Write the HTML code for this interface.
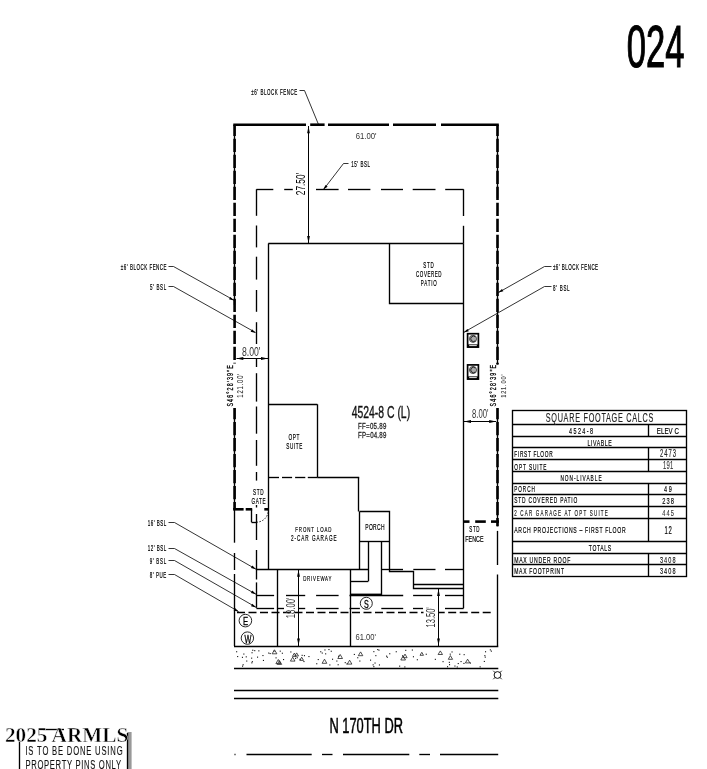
<!DOCTYPE html>
<html><head><meta charset="utf-8"><style>
html,body{margin:0;padding:0;background:#fff;width:707px;height:769px;overflow:hidden}
svg{display:block;will-change:transform}
</style></head><body>
<svg width="707" height="769" viewBox="0 0 707 769">
<defs><filter id="bl" x="-1%" y="-1%" width="102%" height="102%"><feGaussianBlur stdDeviation="0.0"/></filter></defs>
<rect width="707" height="769" fill="#fff"/>
<g>
<line x1="233.3" y1="124.7" x2="306" y2="124.7" stroke="#000" stroke-width="2.6"/>
<line x1="310.2" y1="124.7" x2="324.6" y2="124.7" stroke="#000" stroke-width="2.6"/>
<line x1="328" y1="124.7" x2="389" y2="124.7" stroke="#000" stroke-width="2.6"/>
<line x1="393" y1="124.7" x2="436" y2="124.7" stroke="#000" stroke-width="2.6"/>
<line x1="441" y1="124.7" x2="498.8" y2="124.7" stroke="#000" stroke-width="2.6"/>
<line x1="234.5" y1="124.8" x2="234.5" y2="200" stroke="#000" stroke-width="1.35"/>
<line x1="234.5" y1="240" x2="234.5" y2="305" stroke="#000" stroke-width="1.35"/>
<line x1="234.5" y1="408" x2="234.5" y2="509.3" stroke="#000" stroke-width="1.35"/>
<line x1="234.6" y1="124.8" x2="234.6" y2="363.5" stroke="#000" stroke-width="2.6" stroke-dasharray="13.3 2.7" stroke-dashoffset="2"/>
<line x1="234.6" y1="408" x2="234.6" y2="509.3" stroke="#000" stroke-width="2.6" stroke-dasharray="13.3 2.7" stroke-dashoffset="2"/>
<line x1="497.5" y1="124.8" x2="497.5" y2="198" stroke="#000" stroke-width="1.35"/>
<line x1="497.5" y1="240" x2="497.5" y2="364.5" stroke="#000" stroke-width="1.35"/>
<line x1="497.5" y1="408" x2="497.5" y2="458" stroke="#000" stroke-width="1.35"/>
<line x1="497.5" y1="466" x2="497.5" y2="526.3" stroke="#000" stroke-width="1.35"/>
<line x1="497.5" y1="124.8" x2="497.5" y2="364.5" stroke="#000" stroke-width="2.6" stroke-dasharray="13.3 2.7" stroke-dashoffset="2"/>
<line x1="497.5" y1="408" x2="497.5" y2="526.3" stroke="#000" stroke-width="2.6" stroke-dasharray="13.3 2.7" stroke-dashoffset="2"/>
<line x1="233.1" y1="509.3" x2="243.6" y2="509.3" stroke="#000" stroke-width="2.6"/>
<line x1="245.7" y1="509.3" x2="252.2" y2="509.3" stroke="#000" stroke-width="2.6"/>
<line x1="251.5" y1="509.3" x2="251.5" y2="522.2" stroke="#000" stroke-width="1.35"/>
<line x1="251.5" y1="522.5" x2="256.5" y2="522.5" stroke="#000" stroke-width="1.35"/>
<path d="M256.5,522.2 A12,12 0 0 0 268.3,509.3" fill="none" stroke="#000" stroke-width="0.9" stroke-dasharray="1.5 1.5"/>
<line x1="264.3" y1="509.3" x2="268.3" y2="509.3" stroke="#000" stroke-width="2.6"/>
<line x1="463.5" y1="521.6" x2="469.5" y2="521.6" stroke="#000" stroke-width="2.6"/>
<line x1="475.2" y1="521.6" x2="485.8" y2="521.6" stroke="#000" stroke-width="2.6"/>
<line x1="491" y1="521.6" x2="499.0" y2="521.6" stroke="#000" stroke-width="2.6"/>
<line x1="234.5" y1="509.3" x2="234.5" y2="542.7" stroke="#000" stroke-width="1.35"/>
<line x1="234.5" y1="553" x2="234.5" y2="570" stroke="#000" stroke-width="1.35"/>
<line x1="234.5" y1="574" x2="234.5" y2="646.0" stroke="#000" stroke-width="1.35"/>
<line x1="497.5" y1="530.9" x2="497.5" y2="565" stroke="#000" stroke-width="1.35"/>
<line x1="497.5" y1="574.5" x2="497.5" y2="646.0" stroke="#000" stroke-width="1.35"/>
<line x1="234.0" y1="646.5" x2="498.3" y2="646.5" stroke="#000" stroke-width="1.35"/>
<line x1="256.4" y1="189.5" x2="273.3" y2="189.5" stroke="#000" stroke-width="1.35"/>
<line x1="284.2" y1="189.5" x2="292.8" y2="189.5" stroke="#000" stroke-width="1.35"/>
<line x1="316" y1="189.5" x2="338.6" y2="189.5" stroke="#000" stroke-width="1.35"/>
<line x1="348" y1="189.5" x2="370.4" y2="189.5" stroke="#000" stroke-width="1.35"/>
<line x1="381" y1="189.5" x2="403" y2="189.5" stroke="#000" stroke-width="1.35"/>
<line x1="412.7" y1="189.5" x2="435.5" y2="189.5" stroke="#000" stroke-width="1.35"/>
<line x1="445.2" y1="189.5" x2="463.6" y2="189.5" stroke="#000" stroke-width="1.35"/>
<line x1="256.5" y1="189.3" x2="256.5" y2="215.8" stroke="#000" stroke-width="1.35"/>
<line x1="256.5" y1="225.5" x2="256.5" y2="247.4" stroke="#000" stroke-width="1.35"/>
<line x1="256.5" y1="256.7" x2="256.5" y2="279.6" stroke="#000" stroke-width="1.35"/>
<line x1="256.5" y1="290" x2="256.5" y2="311.8" stroke="#000" stroke-width="1.35"/>
<line x1="256.5" y1="322.2" x2="256.5" y2="344" stroke="#000" stroke-width="1.35"/>
<line x1="256.5" y1="358.5" x2="256.5" y2="367" stroke="#000" stroke-width="1.35"/>
<line x1="256.5" y1="373.2" x2="256.5" y2="401.6" stroke="#000" stroke-width="1.35"/>
<line x1="256.5" y1="406.5" x2="256.5" y2="433.7" stroke="#000" stroke-width="1.35"/>
<line x1="256.5" y1="440" x2="256.5" y2="465.8" stroke="#000" stroke-width="1.35"/>
<line x1="256.5" y1="472" x2="256.5" y2="480.6" stroke="#000" stroke-width="1.35"/>
<line x1="256.5" y1="505" x2="256.5" y2="507.5" stroke="#000" stroke-width="1.35"/>
<line x1="256.5" y1="514" x2="256.5" y2="540" stroke="#000" stroke-width="1.35"/>
<line x1="256.5" y1="550" x2="256.5" y2="579.5" stroke="#000" stroke-width="1.35"/>
<line x1="256.5" y1="582.4" x2="256.5" y2="607.8" stroke="#000" stroke-width="1.35"/>
<line x1="463.5" y1="189.3" x2="463.5" y2="216" stroke="#000" stroke-width="1.35"/>
<line x1="463.5" y1="225.8" x2="463.5" y2="243.5" stroke="#000" stroke-width="1.35"/>
<line x1="268.3" y1="243.5" x2="463.6" y2="243.5" stroke="#000" stroke-width="1.35"/>
<line x1="268.5" y1="243.5" x2="268.5" y2="569.5" stroke="#000" stroke-width="1.35"/>
<line x1="463.5" y1="243.5" x2="463.5" y2="608.2" stroke="#000" stroke-width="1.35"/>
<polyline points="389.5,243.5 389.5,303.5 463.5,303.5" fill="none" stroke="#000" stroke-width="1.35" stroke-linejoin="miter"/>
<line x1="268.3" y1="404.5" x2="317.4" y2="404.5" stroke="#000" stroke-width="1.35"/>
<line x1="317.5" y1="404.3" x2="317.5" y2="477.5" stroke="#000" stroke-width="1.35"/>
<line x1="268.3" y1="477.5" x2="279" y2="477.5" stroke="#000" stroke-width="1.35"/>
<line x1="282" y1="477.5" x2="292.1" y2="477.5" stroke="#000" stroke-width="1.35"/>
<line x1="295.1" y1="477.5" x2="305.3" y2="477.5" stroke="#000" stroke-width="1.35"/>
<line x1="307.8" y1="477.5" x2="317.4" y2="477.5" stroke="#000" stroke-width="1.35"/>
<line x1="317.4" y1="477.5" x2="359.2" y2="477.5" stroke="#000" stroke-width="1.35"/>
<line x1="358.5" y1="477.5" x2="358.5" y2="511.5" stroke="#000" stroke-width="1.35"/>
<line x1="359.5" y1="511.5" x2="359.5" y2="569.5" stroke="#000" stroke-width="1.35"/>
<line x1="256.4" y1="569.5" x2="368.3" y2="569.5" stroke="#000" stroke-width="1.35"/>
<polyline points="359.5,511.5 389.5,511.5 389.5,571.5 413.5,571.5 413.5,588.5 463.5,588.5" fill="none" stroke="#000" stroke-width="1.35" stroke-linejoin="miter"/>
<line x1="359.2" y1="541.5" x2="389.6" y2="541.5" stroke="#000" stroke-width="1.35"/>
<line x1="413.7" y1="584.5" x2="463.6" y2="584.5" stroke="#000" stroke-width="1.35"/>
<line x1="368.5" y1="541.2" x2="368.5" y2="581.3" stroke="#000" stroke-width="1.35"/>
<line x1="350.5" y1="581.5" x2="368.3" y2="581.5" stroke="#000" stroke-width="1.35"/>
<line x1="381.5" y1="541.2" x2="381.5" y2="595" stroke="#000" stroke-width="1.35"/>
<line x1="350.5" y1="594.6" x2="381.3" y2="594.6" stroke="#000" stroke-width="2.0"/>
<line x1="277.5" y1="569.5" x2="277.5" y2="646.0" stroke="#000" stroke-width="1.35"/>
<line x1="350.5" y1="569.5" x2="350.5" y2="646.0" stroke="#000" stroke-width="1.35"/>
<line x1="256.4" y1="595.5" x2="274.1" y2="595.5" stroke="#000" stroke-width="1.35"/>
<line x1="286" y1="595.5" x2="305.2" y2="595.5" stroke="#000" stroke-width="1.35"/>
<line x1="316.1" y1="595.5" x2="338.6" y2="595.5" stroke="#000" stroke-width="1.35"/>
<line x1="349.5" y1="595.5" x2="403.2" y2="595.5" stroke="#000" stroke-width="1.35"/>
<line x1="413.1" y1="595.5" x2="432.2" y2="595.5" stroke="#000" stroke-width="1.35"/>
<line x1="445" y1="595.5" x2="463.6" y2="595.5" stroke="#000" stroke-width="1.35"/>
<line x1="256.4" y1="608.5" x2="274.1" y2="608.5" stroke="#000" stroke-width="1.35"/>
<line x1="277.4" y1="608.5" x2="284" y2="608.5" stroke="#000" stroke-width="1.35"/>
<line x1="298.2" y1="608.5" x2="305.2" y2="608.5" stroke="#000" stroke-width="1.35"/>
<line x1="316.1" y1="608.5" x2="338.6" y2="608.5" stroke="#000" stroke-width="1.35"/>
<line x1="349.5" y1="608.5" x2="359.9" y2="608.5" stroke="#000" stroke-width="1.35"/>
<line x1="381.3" y1="608.5" x2="403.2" y2="608.5" stroke="#000" stroke-width="1.35"/>
<line x1="413" y1="608.5" x2="423" y2="608.5" stroke="#000" stroke-width="1.35"/>
<line x1="445" y1="608.5" x2="463.6" y2="608.5" stroke="#000" stroke-width="1.35"/>
<line x1="381.3" y1="569.5" x2="403" y2="569.5" stroke="#000" stroke-width="1.35"/>
<line x1="413.3" y1="569.5" x2="435.5" y2="569.5" stroke="#000" stroke-width="1.35"/>
<line x1="445" y1="569.5" x2="463.6" y2="569.5" stroke="#000" stroke-width="1.35"/>
<line x1="237" y1="612.5" x2="423.5" y2="612.5" stroke="#000" stroke-width="1.35" stroke-dasharray="8 3.5" stroke-dashoffset="0"/>
<line x1="438.7" y1="612.5" x2="494" y2="612.5" stroke="#000" stroke-width="1.35" stroke-dasharray="8 3.5" stroke-dashoffset="2"/>
<circle cx="245.4" cy="620.6" r="6.3" fill="#fff" stroke="#111" stroke-width="0.9"/>
<text transform="translate(243.1,625.1999999999999) scale(0.7,1)" x="0" y="0" font-family='"Liberation Sans", sans-serif' font-size="11.05" font-weight="normal" fill="#000" stroke="#000" stroke-width="0.3" textLength="6.57" lengthAdjust="spacing">E</text>
<circle cx="247.4" cy="638.1" r="6.2" fill="#fff" stroke="#111" stroke-width="0.9"/>
<text transform="translate(244.4,642.5) scale(0.7,1)" x="0" y="0" font-family='"Liberation Sans", sans-serif' font-size="10.47" font-weight="normal" fill="#000" stroke="#000" stroke-width="0.3" textLength="8.57" lengthAdjust="spacing">W</text>
<circle cx="366.3" cy="603.3" r="6.0" fill="#fff" stroke="#111" stroke-width="0.9"/>
<text transform="translate(364.0,607.5999999999999) scale(0.7,1)" x="0" y="0" font-family='"Liberation Sans", sans-serif' font-size="10.17" font-weight="normal" fill="#000" stroke="#000" stroke-width="0.3" textLength="6.57" lengthAdjust="spacing">S</text>
<rect x="467.6" y="333.7" width="10.8" height="13.4" fill="#fff" stroke="#000" stroke-width="1.7"/>
<rect x="467.6" y="344.4" width="10.8" height="2.8" fill="#000"/>
<line x1="469.6" y1="345.59999999999997" x2="476.4" y2="345.59999999999997" stroke="#fff" stroke-width="0.9" stroke-linecap="round"/>
<circle cx="473" cy="338.8" r="3.6" fill="#aaa" stroke="#333" stroke-width="0.8"/>
<path d="M475.3,336.8 A2.7,2.7 0 1 0 475.3,340.8" fill="none" stroke="#222" stroke-width="1.0"/>
<rect x="467.6" y="364.9" width="10.8" height="14.2" fill="#fff" stroke="#000" stroke-width="1.7"/>
<rect x="467.6" y="376.4" width="10.8" height="2.8" fill="#000"/>
<line x1="469.6" y1="377.59999999999997" x2="476.4" y2="377.59999999999997" stroke="#fff" stroke-width="0.9" stroke-linecap="round"/>
<circle cx="473" cy="370.0" r="3.6" fill="#aaa" stroke="#333" stroke-width="0.8"/>
<path d="M475.3,368.0 A2.7,2.7 0 1 0 475.3,372.0" fill="none" stroke="#222" stroke-width="1.0"/>
<line x1="308.5" y1="126" x2="308.5" y2="243" stroke="#000" stroke-width="1.0"/>
<polygon points="308.50,126.20 309.90,133.20 307.10,133.20" fill="#000"/>
<polygon points="308.50,243.00 307.10,236.00 309.90,236.00" fill="#000"/>
<text transform="translate(305.3,195.2) rotate(-90)" x="0" y="0" font-family='"Liberation Sans", sans-serif' font-size="13.52" font-weight="normal" fill="#000" textLength="22.30" lengthAdjust="spacingAndGlyphs">27.50'</text>
<line x1="236.5" y1="358.5" x2="268" y2="358.5" stroke="#000" stroke-width="1.0"/>
<polygon points="236.30,358.50 243.30,357.10 243.30,359.90" fill="#000"/>
<polygon points="268.00,358.50 261.00,359.90 261.00,357.10" fill="#000"/>
<text x="242" y="355.7" font-family='"Liberation Sans", sans-serif' font-size="13.52" font-weight="normal" fill="#333" textLength="18.50" lengthAdjust="spacingAndGlyphs">8.00'</text>
<line x1="463.5" y1="421.5" x2="496.2" y2="421.5" stroke="#000" stroke-width="1.0"/>
<polygon points="464.00,421.50 471.00,420.10 471.00,422.90" fill="#000"/>
<polygon points="496.20,421.50 489.20,422.90 489.20,420.10" fill="#000"/>
<text x="472" y="418" font-family='"Liberation Sans", sans-serif' font-size="13.37" font-weight="normal" fill="#333" textLength="16.40" lengthAdjust="spacingAndGlyphs">8.00'</text>
<line x1="298.5" y1="569.5" x2="298.5" y2="646" stroke="#000" stroke-width="1.0"/>
<polygon points="298.50,569.80 299.90,576.80 297.10,576.80" fill="#000"/>
<polygon points="298.50,645.50 297.10,638.50 299.90,638.50" fill="#000"/>
<text transform="translate(295.1,618.3) rotate(-90)" x="0" y="0" font-family='"Liberation Sans", sans-serif' font-size="12.79" font-weight="normal" fill="#333" textLength="20.70" lengthAdjust="spacingAndGlyphs">18.00'</text>
<line x1="438.5" y1="588.5" x2="438.5" y2="646" stroke="#000" stroke-width="1.0"/>
<polygon points="438.50,589.00 439.90,596.00 437.10,596.00" fill="#000"/>
<polygon points="438.50,645.50 437.10,638.50 439.90,638.50" fill="#000"/>
<text transform="translate(435.1,627.5) rotate(-90)" x="0" y="0" font-family='"Liberation Sans", sans-serif' font-size="13.23" font-weight="normal" fill="#333" textLength="20.30" lengthAdjust="spacingAndGlyphs">13.50'</text>
<polyline points="299.5,90.5 304.5,90.5 318.5,124.5" fill="none" stroke="#000" stroke-width="0.8" stroke-linejoin="miter"/>
<polyline points="348.5,163.5 343.5,163.5 323.5,189.5" fill="none" stroke="#000" stroke-width="0.8" stroke-linejoin="miter"/>
<polygon points="323.30,189.60 325.49,184.89 327.61,186.71" fill="#000"/>
<polyline points="168.5,266.5 173.5,266.5 234.5,300.5" fill="none" stroke="#000" stroke-width="0.8" stroke-linejoin="miter"/>
<polygon points="234.00,300.60 228.96,299.34 230.35,296.91" fill="#000"/>
<polyline points="168.5,286.5 173.5,286.5 255.5,332.5" fill="none" stroke="#000" stroke-width="0.8" stroke-linejoin="miter"/>
<polygon points="255.70,332.90 250.66,331.66 252.04,329.22" fill="#000"/>
<polyline points="551.5,266.5 544.5,266.5 498.5,292.5" fill="none" stroke="#000" stroke-width="0.8" stroke-linejoin="miter"/>
<polygon points="498.30,292.60 501.96,288.92 503.34,291.36" fill="#000"/>
<polyline points="551.5,286.5 544.5,286.5 463.5,332.5" fill="none" stroke="#000" stroke-width="0.8" stroke-linejoin="miter"/>
<polygon points="463.80,332.60 467.45,328.91 468.84,331.34" fill="#000"/>
<polyline points="168.5,522.5 174.5,522.5 256.5,569.5" fill="none" stroke="#000" stroke-width="0.8" stroke-linejoin="miter"/>
<polygon points="256.00,569.20 250.96,567.93 252.35,565.50" fill="#000"/>
<polyline points="168.5,548.5 174.5,548.5 256.5,594.5" fill="none" stroke="#000" stroke-width="0.8" stroke-linejoin="miter"/>
<polygon points="256.00,594.20 250.96,592.95 252.34,590.52" fill="#000"/>
<polyline points="168.5,560.5 174.5,560.5 256.5,607.5" fill="none" stroke="#000" stroke-width="0.8" stroke-linejoin="miter"/>
<polygon points="256.00,607.50 250.97,606.23 252.36,603.80" fill="#000"/>
<polyline points="168.5,574.5 174.5,574.5 238.5,611.5" fill="none" stroke="#000" stroke-width="0.8" stroke-linejoin="miter"/>
<polygon points="238.70,611.80 233.67,610.53 235.06,608.10" fill="#000"/>
<text transform="translate(251.3,94.6) scale(0.55,1)" x="0" y="0" font-family='"Liberation Sans", sans-serif' font-size="8.14" font-weight="normal" fill="#000" stroke="#000" stroke-width="0.2" textLength="83.45" lengthAdjust="spacing">±6' BLOCK FENCE</text>
<text x="355.7" y="138.9" font-family='"Liberation Sans", sans-serif' font-size="9.30" font-weight="normal" fill="#333" textLength="20.80" lengthAdjust="spacingAndGlyphs">61.00'</text>
<text transform="translate(351.29999999999995,167.0) scale(0.55,1)" x="0" y="0" font-family='"Liberation Sans", sans-serif' font-size="8.14" font-weight="normal" fill="#000" stroke="#000" stroke-width="0.2" textLength="34.00" lengthAdjust="spacing">15' BSL</text>
<text transform="translate(120.80000000000001,269.5) scale(0.55,1)" x="0" y="0" font-family='"Liberation Sans", sans-serif' font-size="8.14" font-weight="normal" fill="#000" stroke="#000" stroke-width="0.2" textLength="83.27" lengthAdjust="spacing">±6' BLOCK FENCE</text>
<text transform="translate(150.0,289.8) scale(0.55,1)" x="0" y="0" font-family='"Liberation Sans", sans-serif' font-size="8.14" font-weight="normal" fill="#000" stroke="#000" stroke-width="0.2" textLength="29.45" lengthAdjust="spacing">5' BSL</text>
<text transform="translate(552.9,270.3) scale(0.55,1)" x="0" y="0" font-family='"Liberation Sans", sans-serif' font-size="8.14" font-weight="normal" fill="#000" stroke="#000" stroke-width="0.2" textLength="82.18" lengthAdjust="spacing">±6' BLOCK FENCE</text>
<text transform="translate(552.9,290.5) scale(0.55,1)" x="0" y="0" font-family='"Liberation Sans", sans-serif' font-size="8.14" font-weight="normal" fill="#000" stroke="#000" stroke-width="0.2" textLength="30.36" lengthAdjust="spacing">8' BSL</text>
<text transform="translate(147.70000000000002,525.6) scale(0.55,1)" x="0" y="0" font-family='"Liberation Sans", sans-serif' font-size="8.14" font-weight="normal" fill="#000" stroke="#000" stroke-width="0.2" textLength="33.64" lengthAdjust="spacing">16' BSL</text>
<text transform="translate(147.70000000000002,550.8) scale(0.55,1)" x="0" y="0" font-family='"Liberation Sans", sans-serif' font-size="8.14" font-weight="normal" fill="#000" stroke="#000" stroke-width="0.2" textLength="33.64" lengthAdjust="spacing">12' BSL</text>
<text transform="translate(149.70000000000002,563.6) scale(0.55,1)" x="0" y="0" font-family='"Liberation Sans", sans-serif' font-size="8.14" font-weight="normal" fill="#000" stroke="#000" stroke-width="0.2" textLength="30.00" lengthAdjust="spacing">9' BSL</text>
<text transform="translate(149.70000000000002,577.8) scale(0.55,1)" x="0" y="0" font-family='"Liberation Sans", sans-serif' font-size="8.14" font-weight="normal" fill="#000" stroke="#000" stroke-width="0.2" textLength="30.00" lengthAdjust="spacing">8' PUE</text>
<text transform="translate(423.29999999999995,267.8) scale(0.55,1)" x="0" y="0" font-family='"Liberation Sans", sans-serif' font-size="8.14" font-weight="normal" fill="#000" stroke="#000" stroke-width="0.2" textLength="18.91" lengthAdjust="spacing">STD</text>
<text transform="translate(416.09999999999997,276.7) scale(0.55,1)" x="0" y="0" font-family='"Liberation Sans", sans-serif' font-size="8.14" font-weight="normal" fill="#000" stroke="#000" stroke-width="0.2" textLength="46.18" lengthAdjust="spacing">COVERED</text>
<text transform="translate(420.79999999999995,285.7) scale(0.55,1)" x="0" y="0" font-family='"Liberation Sans", sans-serif' font-size="8.14" font-weight="normal" fill="#000" stroke="#000" stroke-width="0.2" textLength="28.91" lengthAdjust="spacing">PATIO</text>
<text x="351.7" y="417.5" font-family='"Liberation Sans", sans-serif' font-size="15.99" font-weight="normal" fill="#111" stroke="#111" stroke-width="0.35" textLength="58.40" lengthAdjust="spacingAndGlyphs">4524-8 C (L)</text>
<text transform="translate(358.09999999999997,429.3) scale(0.75,1)" x="0" y="0" font-family='"Liberation Sans", sans-serif' font-size="8.14" font-weight="normal" fill="#222" stroke="#222" stroke-width="0.25" textLength="37.60" lengthAdjust="spacing">FF=05.89</text>
<text transform="translate(358.09999999999997,437.8) scale(0.75,1)" x="0" y="0" font-family='"Liberation Sans", sans-serif' font-size="8.14" font-weight="normal" fill="#222" stroke="#222" stroke-width="0.25" textLength="37.60" lengthAdjust="spacing">FP=04.89</text>
<text transform="translate(288.4,440.3) scale(0.55,1)" x="0" y="0" font-family='"Liberation Sans", sans-serif' font-size="8.58" font-weight="normal" fill="#000" stroke="#000" stroke-width="0.2" textLength="19.82" lengthAdjust="spacing">OPT</text>
<text transform="translate(286.29999999999995,449.3) scale(0.55,1)" x="0" y="0" font-family='"Liberation Sans", sans-serif' font-size="8.43" font-weight="normal" fill="#000" stroke="#000" stroke-width="0.2" textLength="29.27" lengthAdjust="spacing">SUITE</text>
<text transform="translate(253.1,495.1) scale(0.55,1)" x="0" y="0" font-family='"Liberation Sans", sans-serif' font-size="8.43" font-weight="normal" fill="#000" stroke="#000" stroke-width="0.2" textLength="19.27" lengthAdjust="spacing">STD</text>
<text transform="translate(251.4,503.8) scale(0.55,1)" x="0" y="0" font-family='"Liberation Sans", sans-serif' font-size="8.43" font-weight="normal" fill="#000" stroke="#000" stroke-width="0.2" textLength="25.82" lengthAdjust="spacing">GATE</text>
<text transform="translate(295.29999999999995,532) scale(0.55,1)" x="0" y="0" font-family='"Liberation Sans", sans-serif' font-size="7.99" font-weight="normal" fill="#000" stroke="#000" stroke-width="0.2" textLength="65.82" lengthAdjust="spacing">FRONT LOAD</text>
<text transform="translate(290.9,540.8) scale(0.55,1)" x="0" y="0" font-family='"Liberation Sans", sans-serif' font-size="8.43" font-weight="normal" fill="#000" stroke="#000" stroke-width="0.2" textLength="83.09" lengthAdjust="spacing">2-CAR GARAGE</text>
<text transform="translate(365.29999999999995,530) scale(0.55,1)" x="0" y="0" font-family='"Liberation Sans", sans-serif' font-size="9.01" font-weight="normal" fill="#000" stroke="#000" stroke-width="0.2" textLength="34.91" lengthAdjust="spacing">PORCH</text>
<text transform="translate(303.2,580.6) scale(0.55,1)" x="0" y="0" font-family='"Liberation Sans", sans-serif' font-size="7.99" font-weight="normal" fill="#000" stroke="#000" stroke-width="0.2" textLength="51.27" lengthAdjust="spacing">DRIVEWAY</text>
<text transform="translate(469.2,532.3) scale(0.55,1)" x="0" y="0" font-family='"Liberation Sans", sans-serif' font-size="8.14" font-weight="normal" fill="#000" stroke="#000" stroke-width="0.2" textLength="18.91" lengthAdjust="spacing">STD</text>
<text transform="translate(465.29999999999995,541.9) scale(0.55,1)" x="0" y="0" font-family='"Liberation Sans", sans-serif' font-size="9.74" font-weight="normal" fill="#000" stroke="#000" stroke-width="0.2" textLength="33.09" lengthAdjust="spacing">FENCE</text>
<text x="355.6" y="639.5" font-family='"Liberation Sans", sans-serif' font-size="9.30" font-weight="normal" fill="#333" textLength="20.40" lengthAdjust="spacingAndGlyphs">61.00'</text>
<text transform="translate(233.0,406.6) rotate(-90) scale(0.6,1)" x="0" y="0" font-family='"Liberation Sans", sans-serif' font-size="8.87" font-weight="normal" fill="#000" stroke="#000" stroke-width="0.3" textLength="69.00" lengthAdjust="spacing">S46°28'39"E</text>
<text transform="translate(243.1,397.7) rotate(-90) scale(0.7,1)" x="0" y="0" font-family='"Liberation Sans", sans-serif' font-size="8.43" font-weight="normal" fill="#333" stroke="#333" stroke-width="0.1" textLength="34.43" lengthAdjust="spacing">121.00'</text>
<text transform="translate(496.1,406.4) rotate(-90) scale(0.6,1)" x="0" y="0" font-family='"Liberation Sans", sans-serif' font-size="8.87" font-weight="normal" fill="#000" stroke="#000" stroke-width="0.3" textLength="69.00" lengthAdjust="spacing">S46°28'39"E</text>
<text transform="translate(506.2,397.8) rotate(-90) scale(0.7,1)" x="0" y="0" font-family='"Liberation Sans", sans-serif' font-size="7.99" font-weight="normal" fill="#333" stroke="#333" stroke-width="0.1" textLength="33.29" lengthAdjust="spacing">121.00'</text>
<line x1="234.0" y1="668.5" x2="498.3" y2="668.5" stroke="#000" stroke-width="1.35"/>
<line x1="234.0" y1="690.5" x2="498.3" y2="690.5" stroke="#000" stroke-width="1.35"/>
<line x1="234.0" y1="698.5" x2="498.3" y2="698.5" stroke="#000" stroke-width="1.35"/>
<line x1="234.5" y1="754.5" x2="235.5" y2="754.5" stroke="#000" stroke-width="1.35"/>
<line x1="246.5" y1="754.5" x2="311.7" y2="754.5" stroke="#000" stroke-width="1.35"/>
<line x1="322" y1="754.5" x2="332.5" y2="754.5" stroke="#000" stroke-width="1.35"/>
<line x1="343" y1="754.5" x2="409.3" y2="754.5" stroke="#000" stroke-width="1.35"/>
<line x1="419.3" y1="754.5" x2="430" y2="754.5" stroke="#000" stroke-width="1.35"/>
<line x1="440" y1="754.5" x2="498.2" y2="754.5" stroke="#000" stroke-width="1.35"/>
<text x="329.4" y="733.3" font-family='"Liberation Sans", sans-serif' font-size="21.80" font-weight="normal" fill="#000" stroke="#000" stroke-width="0.55" textLength="73.60" lengthAdjust="spacingAndGlyphs">N 170TH DR</text>
<rect x="320.2" y="651.2" width="1.1" height="1.1" fill="#111"/>
<rect x="405.2" y="649.8" width="1.1" height="1.1" fill="#111"/>
<rect x="375.3" y="655.1" width="1.1" height="1.1" fill="#111"/>
<rect x="251.1" y="657.6" width="1.1" height="1.1" fill="#111"/>
<rect x="245.7" y="656.3" width="1.1" height="1.1" fill="#111"/>
<rect x="254.2" y="650.1" width="1.1" height="1.1" fill="#111"/>
<rect x="346.4" y="663.4" width="1.1" height="1.1" fill="#111"/>
<rect x="268.2" y="652.5" width="1.1" height="1.1" fill="#111"/>
<rect x="399.1" y="665.6" width="1.1" height="1.1" fill="#111"/>
<rect x="386.0" y="655.6" width="1.1" height="1.1" fill="#111"/>
<rect x="489.8" y="649.3" width="1.1" height="1.1" fill="#111"/>
<rect x="459.2" y="653.7" width="1.1" height="1.1" fill="#111"/>
<rect x="273.5" y="650.6" width="1.1" height="1.1" fill="#111"/>
<rect x="316.2" y="663.2" width="1.1" height="1.1" fill="#111"/>
<rect x="283.0" y="659.0" width="1.1" height="1.1" fill="#111"/>
<rect x="402.1" y="655.2" width="1.1" height="1.1" fill="#111"/>
<rect x="378.4" y="649.6" width="1.1" height="1.1" fill="#111"/>
<rect x="251.5" y="652.2" width="1.1" height="1.1" fill="#111"/>
<rect x="412.9" y="656.2" width="1.1" height="1.1" fill="#111"/>
<rect x="317.7" y="659.0" width="1.1" height="1.1" fill="#111"/>
<rect x="353.8" y="653.9" width="1.1" height="1.1" fill="#111"/>
<rect x="442.5" y="661.1" width="1.1" height="1.1" fill="#111"/>
<rect x="299.5" y="658.8" width="1.1" height="1.1" fill="#111"/>
<rect x="372.6" y="664.3" width="1.1" height="1.1" fill="#111"/>
<rect x="425.7" y="653.7" width="1.1" height="1.1" fill="#111"/>
<rect x="490.8" y="650.6" width="1.1" height="1.1" fill="#111"/>
<rect x="344.7" y="662.1" width="1.1" height="1.1" fill="#111"/>
<rect x="275.5" y="657.3" width="1.1" height="1.1" fill="#111"/>
<rect x="246.2" y="660.5" width="1.1" height="1.1" fill="#111"/>
<rect x="434.8" y="658.8" width="1.1" height="1.1" fill="#111"/>
<rect x="463.6" y="654.1" width="1.1" height="1.1" fill="#111"/>
<rect x="416.8" y="659.2" width="1.1" height="1.1" fill="#111"/>
<rect x="386.8" y="656.7" width="1.1" height="1.1" fill="#111"/>
<rect x="454.4" y="665.5" width="1.1" height="1.1" fill="#111"/>
<rect x="359.3" y="660.5" width="1.1" height="1.1" fill="#111"/>
<rect x="251.8" y="661.1" width="1.1" height="1.1" fill="#111"/>
<rect x="404.3" y="666.4" width="1.1" height="1.1" fill="#111"/>
<rect x="449.7" y="653.6" width="1.1" height="1.1" fill="#111"/>
<rect x="336.3" y="660.5" width="1.1" height="1.1" fill="#111"/>
<rect x="241.9" y="656.8" width="1.1" height="1.1" fill="#111"/>
<rect x="279.7" y="650.6" width="1.1" height="1.1" fill="#111"/>
<rect x="251.3" y="662.3" width="1.1" height="1.1" fill="#111"/>
<rect x="269.6" y="653.0" width="1.1" height="1.1" fill="#111"/>
<rect x="337.6" y="664.2" width="1.1" height="1.1" fill="#111"/>
<rect x="257.0" y="656.6" width="1.1" height="1.1" fill="#111"/>
<rect x="378.9" y="664.4" width="1.1" height="1.1" fill="#111"/>
<rect x="449.0" y="664.1" width="1.1" height="1.1" fill="#111"/>
<rect x="308.4" y="656.0" width="1.1" height="1.1" fill="#111"/>
<rect x="329.3" y="664.4" width="1.1" height="1.1" fill="#111"/>
<rect x="485.0" y="651.2" width="1.1" height="1.1" fill="#111"/>
<rect x="281.8" y="652.7" width="1.1" height="1.1" fill="#111"/>
<rect x="296.7" y="657.2" width="1.1" height="1.1" fill="#111"/>
<rect x="389.2" y="653.2" width="1.1" height="1.1" fill="#111"/>
<rect x="237.1" y="656.0" width="1.1" height="1.1" fill="#111"/>
<rect x="332.0" y="658.7" width="1.1" height="1.1" fill="#111"/>
<rect x="483.8" y="660.9" width="1.1" height="1.1" fill="#111"/>
<rect x="370.0" y="659.6" width="1.1" height="1.1" fill="#111"/>
<rect x="411.8" y="649.5" width="1.1" height="1.1" fill="#111"/>
<rect x="469.9" y="662.5" width="1.1" height="1.1" fill="#111"/>
<rect x="463.4" y="662.9" width="1.1" height="1.1" fill="#111"/>
<rect x="338.0" y="655.7" width="1.1" height="1.1" fill="#111"/>
<rect x="262.9" y="659.9" width="1.1" height="1.1" fill="#111"/>
<rect x="252.2" y="649.7" width="1.1" height="1.1" fill="#111"/>
<rect x="290.3" y="651.4" width="1.1" height="1.1" fill="#111"/>
<rect x="324.4" y="649.4" width="1.1" height="1.1" fill="#111"/>
<rect x="236.1" y="651.2" width="1.1" height="1.1" fill="#111"/>
<rect x="262.4" y="655.0" width="1.1" height="1.1" fill="#111"/>
<rect x="242.6" y="664.2" width="1.1" height="1.1" fill="#111"/>
<rect x="395.7" y="651.2" width="1.1" height="1.1" fill="#111"/>
<rect x="301.6" y="654.8" width="1.1" height="1.1" fill="#111"/>
<rect x="330.7" y="650.7" width="1.1" height="1.1" fill="#111"/>
<rect x="456.7" y="666.4" width="1.1" height="1.1" fill="#111"/>
<rect x="357.2" y="657.2" width="1.1" height="1.1" fill="#111"/>
<rect x="258.3" y="650.3" width="1.1" height="1.1" fill="#111"/>
<rect x="325.1" y="653.3" width="1.1" height="1.1" fill="#111"/>
<rect x="451.5" y="651.4" width="1.1" height="1.1" fill="#111"/>
<rect x="242.0" y="665.6" width="1.1" height="1.1" fill="#111"/>
<rect x="373.3" y="651.1" width="1.1" height="1.1" fill="#111"/>
<rect x="377.2" y="649.0" width="1.1" height="1.1" fill="#111"/>
<rect x="373.3" y="666.1" width="1.1" height="1.1" fill="#111"/>
<rect x="460.5" y="661.0" width="1.1" height="1.1" fill="#111"/>
<rect x="303.9" y="655.1" width="1.1" height="1.1" fill="#111"/>
<rect x="279.4" y="662.4" width="1.1" height="1.1" fill="#111"/>
<rect x="374.5" y="662.5" width="1.1" height="1.1" fill="#111"/>
<rect x="321.7" y="652.5" width="1.1" height="1.1" fill="#111"/>
<rect x="447.0" y="666.2" width="1.1" height="1.1" fill="#111"/>
<rect x="457.7" y="663.0" width="1.1" height="1.1" fill="#111"/>
<rect x="448.8" y="661.8" width="1.1" height="1.1" fill="#111"/>
<rect x="295.0" y="657.8" width="1.1" height="1.1" fill="#111"/>
<rect x="328.4" y="649.0" width="1.1" height="1.1" fill="#111"/>
<rect x="243.3" y="653.5" width="1.1" height="1.1" fill="#111"/>
<rect x="303.4" y="661.0" width="1.1" height="1.1" fill="#111"/>
<rect x="484.7" y="656.6" width="1.1" height="1.1" fill="#111"/>
<rect x="479.6" y="666.3" width="1.1" height="1.1" fill="#111"/>
<rect x="484.3" y="655.1" width="1.1" height="1.1" fill="#111"/>
<polygon points="296.7,652.9 294.8,656.0 298.5,656.0" fill="none" stroke="#222" stroke-width="0.8"/>
<polygon points="292.7,657.2 290.4,661.1 295.0,661.1" fill="none" stroke="#222" stroke-width="0.8"/>
<polygon points="450.4,655.6 448.3,659.3 452.6,659.3" fill="none" stroke="#222" stroke-width="0.8"/>
<polygon points="440.3,650.9 438.1,654.5 442.5,654.5" fill="none" stroke="#222" stroke-width="0.8"/>
<polygon points="467.6,659.2 465.4,662.9 469.8,662.9" fill="none" stroke="#222" stroke-width="0.8"/>
<polygon points="360.6,651.9 358.3,655.7 362.8,655.7" fill="none" stroke="#222" stroke-width="0.8"/>
<polygon points="324.5,659.2 322.1,663.3 326.8,663.3" fill="none" stroke="#222" stroke-width="0.8"/>
<polygon points="340.2,654.5 337.8,658.5 342.5,658.5" fill="none" stroke="#222" stroke-width="0.8"/>
<polygon points="421.8,652.3 420.0,655.3 423.5,655.3" fill="none" stroke="#222" stroke-width="0.8"/>
<polygon points="279.5,660.6 277.2,664.4 281.7,664.4" fill="none" stroke="#222" stroke-width="0.8"/>
<polygon points="278.3,659.5 275.9,663.6 280.6,663.6" fill="none" stroke="#222" stroke-width="0.8"/>
<polygon points="405.0,654.1 402.9,657.7 407.1,657.7" fill="none" stroke="#222" stroke-width="0.8"/>
<polygon points="274.5,649.8 272.1,653.8 276.9,653.8" fill="none" stroke="#222" stroke-width="0.8"/>
<polygon points="403.1,656.0 400.8,660.0 405.5,660.0" fill="none" stroke="#222" stroke-width="0.8"/>
<polygon points="349.6,660.2 347.3,664.1 351.9,664.1" fill="none" stroke="#222" stroke-width="0.8"/>
<polygon points="294.3,653.1 292.4,656.4 296.2,656.4" fill="none" stroke="#222" stroke-width="0.8"/>
<polygon points="301.7,657.2 299.8,660.4 303.5,660.4" fill="none" stroke="#222" stroke-width="0.8"/>
<circle cx="497.5" cy="675" r="3.4" fill="none" stroke="#111" stroke-width="1"/>
<line x1="499.76" y1="677.26" x2="501.74" y2="679.24" stroke="#111" stroke-width="0.9"/>
<line x1="495.24" y1="677.26" x2="493.26" y2="679.24" stroke="#111" stroke-width="0.9"/>
<line x1="495.24" y1="672.74" x2="493.26" y2="670.76" stroke="#111" stroke-width="0.9"/>
<line x1="499.76" y1="672.74" x2="501.74" y2="670.76" stroke="#111" stroke-width="0.9"/>
<rect x="512.5" y="410.5" width="174" height="166" fill="none" stroke="#000" stroke-width="1.35"/>
<line x1="512.7" y1="424.5" x2="686.0" y2="424.5" stroke="#000" stroke-width="1.35"/>
<line x1="512.7" y1="436.5" x2="686.0" y2="436.5" stroke="#000" stroke-width="1.35"/>
<line x1="512.7" y1="447.5" x2="686.0" y2="447.5" stroke="#000" stroke-width="1.35"/>
<line x1="512.7" y1="459.5" x2="686.0" y2="459.5" stroke="#000" stroke-width="1.35"/>
<line x1="512.7" y1="471.5" x2="686.0" y2="471.5" stroke="#000" stroke-width="1.35"/>
<line x1="512.7" y1="483.5" x2="686.0" y2="483.5" stroke="#000" stroke-width="1.35"/>
<line x1="512.7" y1="494.5" x2="686.0" y2="494.5" stroke="#000" stroke-width="1.35"/>
<line x1="512.7" y1="506.5" x2="686.0" y2="506.5" stroke="#000" stroke-width="1.35"/>
<line x1="512.7" y1="518.5" x2="686.0" y2="518.5" stroke="#000" stroke-width="1.35"/>
<line x1="512.7" y1="541.5" x2="686.0" y2="541.5" stroke="#000" stroke-width="1.35"/>
<line x1="512.7" y1="553.5" x2="686.0" y2="553.5" stroke="#000" stroke-width="1.35"/>
<line x1="512.7" y1="564.5" x2="686.0" y2="564.5" stroke="#000" stroke-width="1.35"/>
<line x1="648.5" y1="424.6" x2="648.5" y2="436.3" stroke="#000" stroke-width="1.35"/>
<line x1="648.5" y1="447.7" x2="648.5" y2="471.7" stroke="#000" stroke-width="1.35"/>
<line x1="648.5" y1="483.2" x2="648.5" y2="541.4" stroke="#000" stroke-width="1.35"/>
<line x1="648.5" y1="553.1" x2="648.5" y2="576.3" stroke="#000" stroke-width="1.35"/>
<text transform="translate(545.6999999999999,422) scale(0.55,1)" x="0" y="0" font-family='"Liberation Sans", sans-serif' font-size="13.23" font-weight="normal" fill="#222" stroke="#222" stroke-width="0.15" textLength="195.82" lengthAdjust="spacing">SQUARE FOOTAGE CALCS</text>
<text transform="translate(569.1,434.3) scale(0.62,1)" x="0" y="0" font-family='"Liberation Sans", sans-serif' font-size="8.72" font-weight="normal" fill="#000" stroke="#000" stroke-width="0.2" textLength="38.55" lengthAdjust="spacing">4524-8</text>
<text transform="translate(656.6999999999999,434.3) scale(0.7,1)" x="0" y="0" font-family='"Liberation Sans", sans-serif' font-size="8.72" font-weight="normal" fill="#000" stroke="#000" stroke-width="0.2" textLength="31.86" lengthAdjust="spacing">ELEV C</text>
<text transform="translate(587.4,445.7) scale(0.55,1)" x="0" y="0" font-family='"Liberation Sans", sans-serif' font-size="9.45" font-weight="normal" fill="#000" stroke="#000" stroke-width="0.2" textLength="44.36" lengthAdjust="spacing">LIVABLE</text>
<text transform="translate(514.3,457.2) scale(0.55,1)" x="0" y="0" font-family='"Liberation Sans", sans-serif' font-size="8.72" font-weight="normal" fill="#000" stroke="#000" stroke-width="0.2" textLength="69.64" lengthAdjust="spacing">FIRST FLOOR</text>
<text transform="translate(660.0,457.3) scale(0.58,1)" x="0" y="0" font-family='"Liberation Sans", sans-serif' font-size="10.17" font-weight="normal" fill="#222" stroke="#222" stroke-width="0.15" textLength="27.76" lengthAdjust="spacing">2473</text>
<text transform="translate(514.3,469.5) scale(0.55,1)" x="0" y="0" font-family='"Liberation Sans", sans-serif' font-size="8.72" font-weight="normal" fill="#000" stroke="#000" stroke-width="0.2" textLength="58.55" lengthAdjust="spacing">OPT SUITE</text>
<text transform="translate(663.1,469.1) scale(0.58,1)" x="0" y="0" font-family='"Liberation Sans", sans-serif' font-size="10.17" font-weight="normal" fill="#333" stroke="#333" stroke-width="0.1" textLength="17.59" lengthAdjust="spacing">191</text>
<text transform="translate(560.4,481) scale(0.55,1)" x="0" y="0" font-family='"Liberation Sans", sans-serif' font-size="8.72" font-weight="normal" fill="#000" stroke="#000" stroke-width="0.2" textLength="74.91" lengthAdjust="spacing">NON-LIVABLE</text>
<text transform="translate(514.1999999999999,492.2) scale(0.55,1)" x="0" y="0" font-family='"Liberation Sans", sans-serif' font-size="8.43" font-weight="normal" fill="#000" stroke="#000" stroke-width="0.2" textLength="37.45" lengthAdjust="spacing">PORCH</text>
<text transform="translate(664.0,491.9) scale(0.58,1)" x="0" y="0" font-family='"Liberation Sans", sans-serif' font-size="9.45" font-weight="normal" fill="#000" stroke="#000" stroke-width="0.2" textLength="13.62" lengthAdjust="spacing">49</text>
<text transform="translate(514.1999999999999,503.4) scale(0.55,1)" x="0" y="0" font-family='"Liberation Sans", sans-serif' font-size="8.87" font-weight="normal" fill="#000" stroke="#000" stroke-width="0.2" textLength="114.73" lengthAdjust="spacing">STD COVERED PATIO</text>
<text transform="translate(662.1999999999999,503.6) scale(0.58,1)" x="0" y="0" font-family='"Liberation Sans", sans-serif' font-size="9.88" font-weight="normal" fill="#000" stroke="#000" stroke-width="0.15" textLength="20.17" lengthAdjust="spacing">238</text>
<text transform="translate(514.1999999999999,515.6) scale(0.55,1)" x="0" y="0" font-family='"Liberation Sans", sans-serif' font-size="8.14" font-weight="normal" fill="#222" stroke="#222" stroke-width="0.2" textLength="170.18" lengthAdjust="spacing">2 CAR GARAGE AT OPT SUITE</text>
<text transform="translate(662.1999999999999,515.8) scale(0.58,1)" x="0" y="0" font-family='"Liberation Sans", sans-serif' font-size="9.88" font-weight="normal" fill="#333" stroke="#333" stroke-width="0.1" textLength="20.17" lengthAdjust="spacing">445</text>
<text transform="translate(514.1999999999999,533.4) scale(0.55,1)" x="0" y="0" font-family='"Liberation Sans", sans-serif' font-size="9.30" font-weight="normal" fill="#000" stroke="#000" stroke-width="0.2" textLength="202.55" lengthAdjust="spacing">ARCH PROJECTIONS – FIRST FLOOR</text>
<text transform="translate(664.4,533.6) scale(0.58,1)" x="0" y="0" font-family='"Liberation Sans", sans-serif' font-size="10.17" font-weight="normal" fill="#000" stroke="#000" stroke-width="0.2" textLength="12.93" lengthAdjust="spacing">12</text>
<text transform="translate(588.8,551.2) scale(0.55,1)" x="0" y="0" font-family='"Liberation Sans", sans-serif' font-size="9.16" font-weight="normal" fill="#000" stroke="#000" stroke-width="0.2" textLength="40.55" lengthAdjust="spacing">TOTALS</text>
<text transform="translate(514.1999999999999,562.7) scale(0.55,1)" x="0" y="0" font-family='"Liberation Sans", sans-serif' font-size="9.30" font-weight="normal" fill="#000" stroke="#000" stroke-width="0.2" textLength="102.18" lengthAdjust="spacing">MAX UNDER ROOF</text>
<text transform="translate(660.0,562.8) scale(0.58,1)" x="0" y="0" font-family='"Liberation Sans", sans-serif' font-size="9.59" font-weight="normal" fill="#000" stroke="#000" stroke-width="0.1" textLength="26.72" lengthAdjust="spacing">3408</text>
<text transform="translate(514.1999999999999,574.1) scale(0.55,1)" x="0" y="0" font-family='"Liberation Sans", sans-serif' font-size="9.16" font-weight="normal" fill="#000" stroke="#000" stroke-width="0.2" textLength="90.55" lengthAdjust="spacing">MAX FOOTPRINT</text>
<text transform="translate(660.0,574.3) scale(0.58,1)" x="0" y="0" font-family='"Liberation Sans", sans-serif' font-size="9.59" font-weight="normal" fill="#000" stroke="#000" stroke-width="0.15" textLength="26.72" lengthAdjust="spacing">3408</text>
<text x="626.7" y="66.7" font-family='"Liberation Sans", sans-serif' font-size="59.59" font-weight="normal" fill="#000" textLength="57.70" lengthAdjust="spacingAndGlyphs" stroke="#000" stroke-width="1.2">024</text>
<rect x="127.3" y="732" width="4.3" height="37" fill="#999"/>
<line x1="19.5" y1="740.5" x2="19.5" y2="769" stroke="#000" stroke-width="1.35"/>
<line x1="127.5" y1="733" x2="127.5" y2="769" stroke="#000" stroke-width="1.35"/>
<text transform="translate(25.4,754.8) scale(0.62,1)" x="0" y="0" font-family='"Liberation Sans", sans-serif' font-size="12.35" font-weight="normal" fill="#111" stroke="#111" stroke-width="0.12" textLength="156.77" lengthAdjust="spacing">IS TO BE DONE USING</text>
<text transform="translate(25.4,768.5) scale(0.62,1)" x="0" y="0" font-family='"Liberation Sans", sans-serif' font-size="12.35" font-weight="normal" fill="#111" stroke="#111" stroke-width="0.12" textLength="154.35" lengthAdjust="spacing">PROPERTY PINS ONLY</text>
<line x1="43" y1="729.5" x2="64" y2="729.5" stroke="#000" stroke-width="1.35"/>
<text x="5" y="741.5" font-family='"Liberation Serif", serif' font-size="20.5" font-weight="bold" fill="#000" stroke="#fff" stroke-width="0.45" textLength="123.2" lengthAdjust="spacingAndGlyphs">2025 ARMLS</text>
</g>
</svg>
</body></html>
